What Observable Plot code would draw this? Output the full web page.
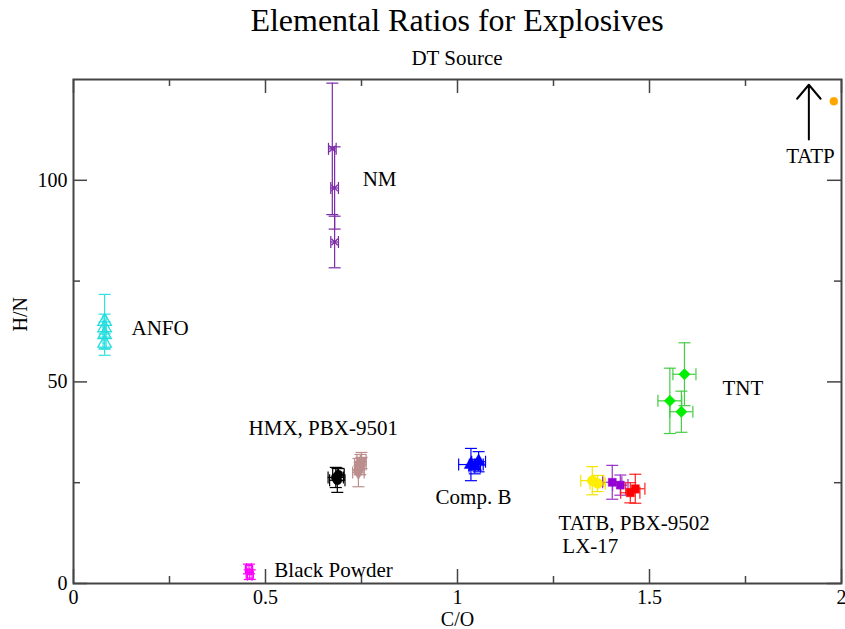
<!DOCTYPE html>
<html>
<head>
<meta charset="utf-8">
<script src="https://cdn.jsdelivr.net/npm/d3@7"></script>
<script src="https://cdn.jsdelivr.net/npm/@observablehq/plot@0.6"></script>
<style>
  html, body { margin: 0; padding: 0; background: #fff; color: #000; }
  #wrap { width: 845px; font-family: "Liberation Serif", "DejaVu Serif", serif; }
  .title { height: 40px; line-height: 40px; font-size: 32px; text-align: center; padding-left: 73px; padding-right: 4px; }
  .subtitle { height: 36px; line-height: 36px; font-size: 21px; text-align: center; padding-left: 73px; padding-right: 4px; }
  svg { display: block; }
</style>
</head>
<body>
<div id="wrap">
  <div class="title">Elemental Ratios for Explosives</div>
  <div class="subtitle">DT Source</div>
  <div id="chart"></div>
</div>
<script>
// Each row: [C/O, H/N, C/O error, H/N error]
const NM = [[0.674,107.8,0.010,16.3],[0.680,98.1,0.010,10.2],[0.680,84.7,0.010,6.4]];
const ANFO = [[0.081,65.0,0.004,6.7],[0.081,63.4,0.004,1.5],[0.081,61.7,0.004,5.1],[0.081,59.6,0.004,1.5]];
const BLACK_POWDER = [[0.457,3.6,0.006,1.2],[0.459,2.2,0.006,1.2]];
const HMX = [[0.683,26.3,0.020,2.5],[0.687,25.6,0.020,3.0],[0.690,27.0,0.015,1.5]];
const PBX9501 = [[0.742,27.5,0.015,3.5],[0.747,29.5,0.015,2.5],[0.750,30.5,0.012,2.0],[0.745,28.5,0.012,1.5]];
const COMP_B = [[1.035,29.5,0.032,4.0],[1.055,30.2,0.018,2.5],[1.045,29.0,0.015,1.8]];
const TNT = [[1.591,51.9,0.030,7.8],[1.553,45.3,0.031,8.1],[1.583,42.6,0.030,5.1]];
const TATB = [[1.351,25.5,0.030,3.5],[1.365,24.8,0.020,2.0]];
const PBX9502 = [[1.403,25.1,0.025,4.2],[1.424,24.4,0.020,2.5]];
const LX17 = [[1.450,22.5,0.025,2.5],[1.463,23.5,0.025,3.6]];
const TATP = [[1.980,119.6,0,0]];

// series name, rows, marker colour, bar colour, symbol, radius, filled, rotate
const seriesStyle = [
  ["NM", NM, "#7b2aa8", "#7b2aa8", "times", 3, false, 0],
  ["ANFO", ANFO, "#22dddd", "#33e0e0", "triangle", 5, false, 0],
  ["Black Powder", BLACK_POWDER, "#ff00ff", "#ff00ff", "square", 4, false, 0],
  ["HMX", HMX, "#000000", "#000000", "circle", 4.5, true, 0],
  ["PBX-9501", PBX9501, "#bc8f8f", "#bc8f8f", "triangle", 4.5, true, 180],
  ["Comp. B", COMP_B, "#0000ff", "#0000ff", "triangle", 5, true, 0],
  ["TNT", TNT, "#00ee00", "#44cc44", "square", 4.5, true, 45],
  ["TATB", TATB, "#ffee00", "#f4e600", "circle", 5, true, 0],
  ["PBX-9502", PBX9502, "#9400d3", "#9a30c8", "square", 4.5, true, 0],
  ["LX-17", LX17, "#ff0000", "#ff2020", "square", 4.5, true, 0],
  ["TATP", TATP, "#ffa500", "#ffa500", "circle", 4, true, 0]
];

const labelText = ["NM","ANFO","TNT","HMX, PBX-9501","Comp. B","TATB, PBX-9502","LX-17","Black Powder","TATP"];
const labelX = [0.753,0.151,1.690,0.456,0.943,1.263,1.273,0.523,1.919];
const labelY = [100.2,63.4,48.5,38.6,21.3,14.9,9.2,3.2,105.9];
const labelAnchor = ["start","start","start","start","start","start","start","start","middle"];

const tatpArrow = [{x: 1.915, yFrom: 110.1, yTo: 123.7}];

const xMajor = [0, 0.5, 1, 1.5, 2];
const xMinor = [0.25, 0.75, 1.25, 1.75];
const yMajor = [0, 50, 100];
const yMinor = [25, 75];

// build table
const rows = [];
for (const [name, data, mc, bc, sym, r, filled, rot] of seriesStyle) {
  for (const [x, y, xe, ye] of data) rows.push({name, x, y, xe, ye, mc, bc, sym, r, filled, rot});
}
const barRows = rows.filter(d => d.xe > 0 || d.ye > 0);
const labels = labelText.map((t, i) => ({t, x: labelX[i], y: labelY[i], a: labelAnchor[i]}));

const W = 845, H = 553, mL = 73, mR = 4, mT = 3, mB = 46;
const plotW = W - mL - mR, plotH = H - mT - mB;
const FONT = "Liberation Serif";

const hcap = {draw(ctx, size) { const r = Math.sqrt(size / Math.PI); ctx.moveTo(-r, 0); ctx.lineTo(r, 0); }};
const vcap = {draw(ctx, size) { const r = Math.sqrt(size / Math.PI); ctx.moveTo(0, -r); ctx.lineTo(0, r); }};

const axisColor = "#444";

const marks = [
  // error bars
  Plot.ruleX(barRows, {x: "x", y1: d => d.y - d.ye, y2: d => d.y + d.ye, stroke: "bc", strokeWidth: 1.2}),
  Plot.ruleY(barRows, {y: "y", x1: d => d.x - d.xe, x2: d => d.x + d.xe, stroke: "bc", strokeWidth: 1.2}),
  Plot.dot(barRows, {x: "x", y: d => d.y + d.ye, symbol: hcap, r: 6, stroke: "bc", fill: "none", strokeWidth: 1.2}),
  Plot.dot(barRows, {x: "x", y: d => d.y - d.ye, symbol: hcap, r: 6, stroke: "bc", fill: "none", strokeWidth: 1.2}),
  Plot.dot(barRows, {x: d => d.x + d.xe, y: "y", symbol: vcap, r: 6, stroke: "bc", fill: "none", strokeWidth: 1.2}),
  Plot.dot(barRows, {x: d => d.x - d.xe, y: "y", symbol: vcap, r: 6, stroke: "bc", fill: "none", strokeWidth: 1.2}),
  // markers
  ...seriesStyle.map(([name, data, mc, bc, sym, r, filled, rot]) =>
    Plot.dot(rows.filter(d => d.name === name), {
      x: "x", y: "y", symbol: sym, r, rotate: rot,
      fill: filled ? mc : "none", stroke: mc, strokeWidth: filled ? 0.5 : 1.3
    })),
  // annotation arrow for TATP
  Plot.arrow(tatpArrow, {x: "x", y1: "yFrom", y2: "yTo", stroke: "#000", strokeWidth: 2, headLength: 14, headAngle: 80}),
  // annotations
  Plot.text(labels.filter(d => d.a === "start"), {x: "x", y: "y", text: "t", textAnchor: "start", fontSize: 21, fontFamily: FONT, fill: "#000"}),
  Plot.text(labels.filter(d => d.a === "middle"), {x: "x", y: "y", text: "t", textAnchor: "middle", fontSize: 21, fontFamily: FONT, fill: "#000"}),
  // frame and inside ticks on all four sides
  Plot.frame({stroke: axisColor, strokeWidth: 2}),
  Plot.tickX(xMajor, {x: d => d, insetTop: plotH - 14, stroke: axisColor, strokeWidth: 1.5}),
  Plot.tickX(xMinor, {x: d => d, insetTop: plotH - 7, stroke: axisColor, strokeWidth: 1.5}),
  Plot.tickX(xMajor, {x: d => d, insetBottom: plotH - 14, stroke: axisColor, strokeWidth: 1.5}),
  Plot.tickX(xMinor, {x: d => d, insetBottom: plotH - 7, stroke: axisColor, strokeWidth: 1.5}),
  Plot.tickY(yMajor, {y: d => d, insetRight: plotW - 14, stroke: axisColor, strokeWidth: 1.5}),
  Plot.tickY(yMinor, {y: d => d, insetRight: plotW - 7, stroke: axisColor, strokeWidth: 1.5}),
  Plot.tickY(yMajor, {y: d => d, insetLeft: plotW - 14, stroke: axisColor, strokeWidth: 1.5}),
  Plot.tickY(yMinor, {y: d => d, insetLeft: plotW - 7, stroke: axisColor, strokeWidth: 1.5}),
  // tick labels
  Plot.axisX({ticks: xMajor, tickSize: 0, tickPadding: 6, label: null, tickFormat: d => String(d), fontSize: 20, fontFamily: FONT}),
  Plot.axisY({ticks: yMajor, tickSize: 0, tickPadding: 6, label: null, tickFormat: d => String(d), fontSize: 20, fontFamily: FONT}),
  // axis titles
  Plot.text(["C/O"], {text: d => d, frameAnchor: "bottom", dy: 42, fontSize: 20, fontFamily: FONT, fill: "#000"}),
  Plot.text(["H/N"], {text: d => d, frameAnchor: "left", dx: -53, rotate: -90, fontSize: 20, fontFamily: FONT, fill: "#000"})
];

const chart = Plot.plot({
  width: W, height: H,
  marginLeft: mL, marginRight: mR, marginTop: mT, marginBottom: mB,
  x: {domain: [0, 2]},
  y: {domain: [0, 125]},
  color: {type: "identity"},
  style: {fontFamily: "'Liberation Serif', serif", fontSize: "20px", background: "white", color: "#000", overflow: "visible"},
  marks
});
document.getElementById("chart").appendChild(chart);
</script>
</body>
</html>
